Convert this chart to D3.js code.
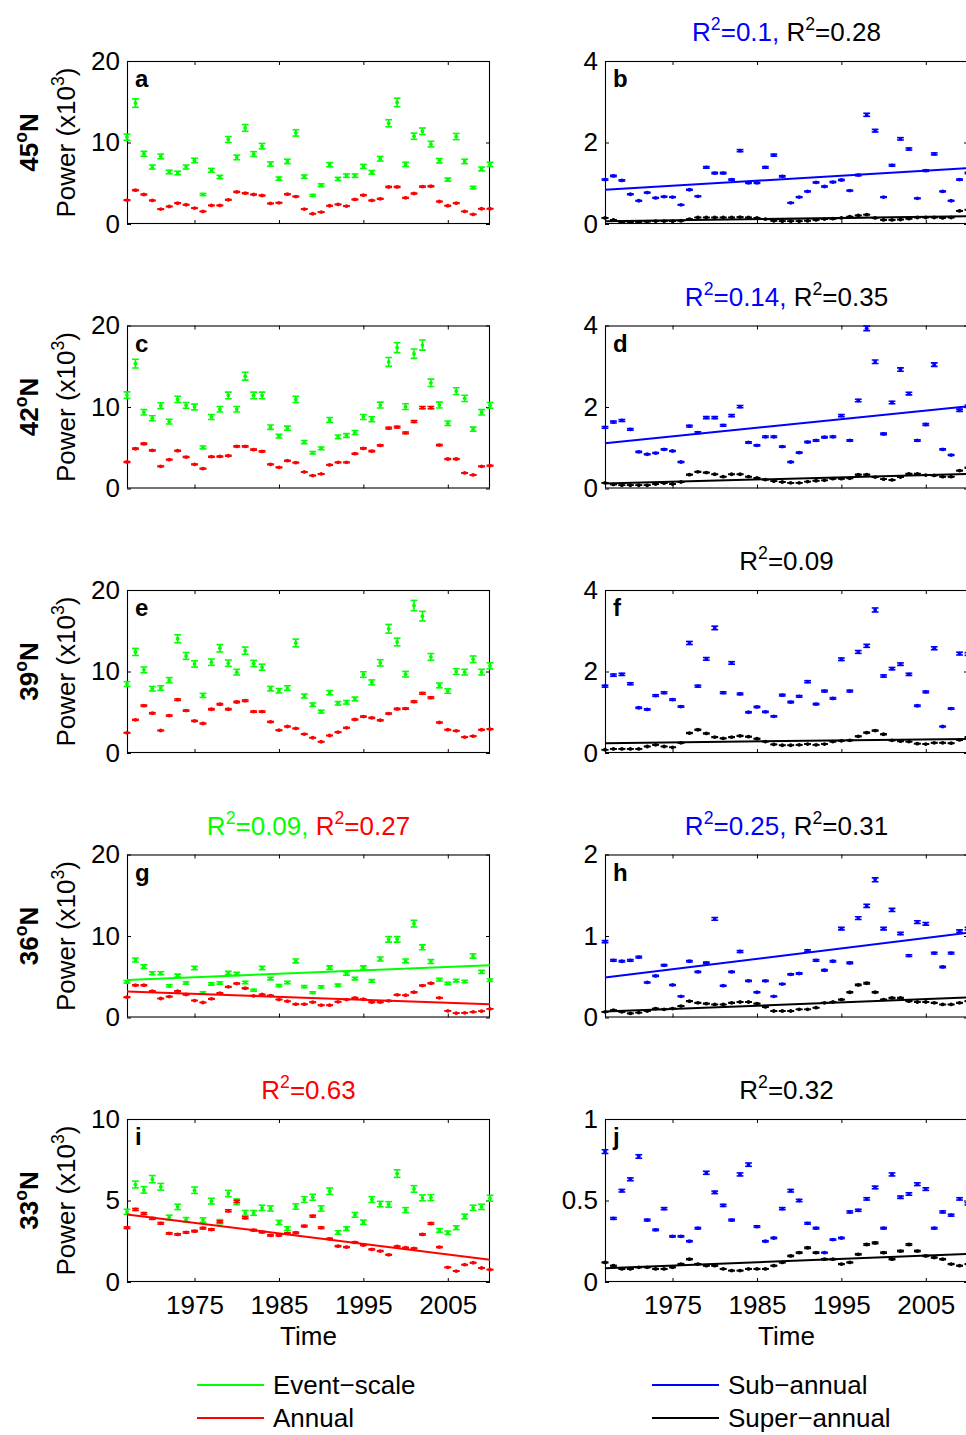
<!DOCTYPE html>
<html>
<head>
<meta charset="utf-8">
<script src="https://cdn.jsdelivr.net/npm/d3@7"></script>
<style>
  html, body { margin: 0; padding: 0; background: #fff; }
  svg { display: block; font-family: "Liberation Sans", Arial, Helvetica, sans-serif; }
  text { white-space: pre; }
</style>
</head>
<body>
<svg id="chart" width="966" height="1435"></svg>
<script>
// ---------------- DATA ----------------
const years = [1967,1968,1969,1970,1971,1972,1973,1974,1975,1976,1977,1978,1979,1980,1981,1982,1983,1984,1985,1986,1987,1988,
               1989,1990,1991,1992,1993,1994,1995,1996,1997,1998,1999,2000,2001,2002,2003,2004,2005,2006,2007,2008,2009,2010];
const xTicks = [1975, 1985, 1995, 2005];
const latitudes = ["45", "42", "39", "36", "33"];
const leftTicks  = [[0,10,20],[0,10,20],[0,10,20],[0,10,20],[0,5,10]];
const rightTicks = [[0,2,4],[0,2,4],[0,2,4],[0,1,2],[0,0.5,1]];
const panelLetters = [["a","b"],["c","d"],["e","f"],["g","h"],["i","j"]];

// 45N
const eventA  = [10.65,14.84,8.62,6.99,8.29,6.38,6.26,6.99,7.80,3.62,6.59,5.77,10.37,8.17,11.79,8.58,9.55,7.36,5.57,7.68,11.18,5.81,
                 3.50,4.76,7.28,5.53,5.93,5.93,7.07,6.34,8.01,12.36,14.92,7.32,10.77,11.38,9.80,7.76,5.45,10.73,7.68,4.47,6.75,7.32];
const annualA = [2.93,4.15,3.62,2.89,1.83,2.15,2.56,2.36,1.95,1.54,2.28,2.28,2.97,3.94,3.78,3.62,3.50,2.52,2.60,3.66,3.37,1.83,
                 1.26,1.46,2.24,2.40,2.20,3.01,3.54,2.89,3.09,4.55,4.55,3.21,3.74,4.59,4.63,2.76,2.24,2.56,1.54,1.18,1.87,1.87];
const subB    = [1.09,1.18,1.07,0.73,0.57,0.77,0.64,0.67,0.66,0.47,0.84,0.68,1.39,1.25,1.25,1.09,1.80,1.01,1.01,1.39,1.69,1.17,
                 0.52,0.66,0.80,1.02,0.92,1.03,1.08,0.82,1.20,2.68,2.29,0.66,1.44,2.09,1.84,0.63,1.31,1.72,0.80,0.57,1.09,1.25];
const superB  = [0.15,0.10,0.05,0.05,0.05,0.06,0.07,0.07,0.07,0.08,0.12,0.16,0.16,0.16,0.16,0.16,0.17,0.16,0.15,0.12,0.08,0.07,
                 0.07,0.07,0.08,0.10,0.12,0.13,0.15,0.18,0.21,0.23,0.15,0.10,0.10,0.11,0.13,0.16,0.16,0.16,0.15,0.16,0.32,0.35];
// 42N
const eventC  = [11.46,15.33,9.35,8.62,10.16,8.21,10.93,10.20,10.00,5.04,8.78,9.72,11.42,9.72,13.78,11.42,11.42,7.52,6.42,7.40,10.93,5.69,
                 4.39,4.92,8.41,6.34,6.50,6.87,8.78,8.50,10.24,15.53,17.28,10.04,16.54,17.60,12.97,10.24,8.01,11.95,11.06,7.28,9.35,10.20];
const annualC = [3.25,4.88,5.49,4.67,2.72,3.54,4.63,3.86,2.97,2.44,3.90,3.94,4.02,5.16,5.16,4.76,4.55,2.97,2.60,3.41,3.17,2.03,
                 1.59,1.79,2.89,3.21,3.21,4.27,4.92,4.59,5.28,7.40,7.52,6.83,8.21,9.92,9.92,5.33,3.62,3.62,1.91,1.67,2.72,2.80];
const subD    = [1.50,1.63,1.67,1.45,0.90,0.84,0.87,0.96,0.92,0.65,1.53,1.37,1.74,1.74,1.55,1.79,2.01,1.13,1.06,1.27,1.27,1.03,
                 0.65,0.88,1.14,1.18,1.26,1.27,1.79,1.18,2.16,3.93,3.11,1.34,2.11,2.92,2.33,1.18,1.57,3.04,0.96,0.82,1.92,2.02];
const superD  = [0.14,0.10,0.08,0.08,0.08,0.08,0.11,0.13,0.11,0.16,0.34,0.41,0.39,0.35,0.29,0.35,0.35,0.29,0.26,0.22,0.18,0.16,
                 0.14,0.14,0.17,0.19,0.20,0.24,0.24,0.25,0.34,0.34,0.28,0.23,0.21,0.28,0.36,0.36,0.33,0.32,0.29,0.29,0.44,0.51];
// 39N
const eventE  = [8.46,12.40,10.20,7.89,7.97,8.94,14.02,11.91,10.93,7.07,11.14,12.85,11.02,9.92,12.56,10.98,10.53,7.89,7.64,7.97,13.50,6.99,
                 5.93,5.08,7.40,6.10,6.22,6.63,9.63,8.66,11.06,15.24,13.62,9.67,18.09,16.79,11.79,8.29,7.60,10.00,9.92,11.50,9.92,10.69];
const annualE = [2.48,4.07,5.81,4.88,2.76,4.59,6.54,5.20,3.94,3.62,5.37,5.98,5.37,6.26,6.42,5.08,5.08,3.82,2.80,3.25,3.01,2.32,
                 1.87,1.38,2.15,2.56,3.09,4.11,4.47,4.31,4.02,4.84,5.41,5.45,6.30,7.32,6.79,3.74,2.85,2.72,1.95,2.07,2.85,2.93];
const subF    = [1.64,1.91,1.93,1.70,1.11,1.07,1.41,1.48,1.31,1.14,2.70,1.64,2.31,3.07,1.48,2.21,1.45,1.00,1.13,1.01,0.90,1.42,
                 1.25,1.39,1.75,1.20,1.52,1.34,2.30,1.52,2.48,2.63,3.51,1.89,2.07,2.18,1.93,1.16,1.50,2.57,0.65,1.09,2.44,2.43];
const superF  = [0.08,0.10,0.10,0.10,0.10,0.16,0.20,0.16,0.14,0.25,0.49,0.57,0.48,0.39,0.36,0.39,0.42,0.40,0.35,0.28,0.21,0.19,
                 0.19,0.20,0.22,0.20,0.22,0.28,0.30,0.31,0.41,0.50,0.55,0.46,0.31,0.29,0.28,0.23,0.22,0.25,0.25,0.24,0.32,0.39];
// 36N
const eventG  = [4.37,7.06,6.24,5.43,5.43,3.88,5.14,4.24,6.08,3.06,4.12,4.24,5.47,5.35,4.29,3.35,6.08,4.78,3.92,4.29,6.94,3.80,
                 3.06,3.76,6.12,3.96,5.39,4.78,6.12,4.49,7.18,9.59,9.59,6.94,11.51,8.61,6.86,4.65,4.16,4.53,4.41,7.55,5.59,4.57];
const annualG = [2.49,3.96,3.96,3.22,2.33,2.57,3.22,2.82,2.08,1.84,2.29,2.98,3.76,4.16,3.59,2.65,2.82,2.69,2.20,2.00,1.63,1.63,
                 1.88,1.51,1.51,1.92,2.20,2.41,2.24,1.88,1.88,2.04,2.78,2.73,3.10,3.92,4.20,2.41,0.82,0.53,0.57,0.69,0.78,1.06];
const subH    = [0.93,0.70,0.69,0.70,0.74,0.43,0.51,0.64,0.40,0.26,0.69,0.56,0.67,1.21,0.39,0.56,0.81,0.45,0.31,0.45,0.26,0.41,
                 0.53,0.54,0.82,0.70,0.58,0.69,1.09,0.67,1.22,1.37,1.69,1.09,1.32,1.03,0.76,1.17,1.15,0.79,0.62,0.79,1.06,1.09];
const superH  = [0.07,0.09,0.07,0.05,0.06,0.08,0.11,0.10,0.11,0.14,0.20,0.18,0.17,0.16,0.16,0.18,0.19,0.19,0.17,0.13,0.08,0.08,
                 0.08,0.10,0.10,0.12,0.18,0.19,0.22,0.31,0.40,0.42,0.31,0.22,0.24,0.24,0.20,0.19,0.19,0.18,0.16,0.16,0.18,0.20];
// 33N
const eventI  = [4.31,5.98,5.65,6.31,5.84,3.96,4.61,3.82,5.63,3.80,4.96,3.70,5.43,4.92,4.24,4.24,4.55,4.51,3.65,3.27,4.63,5.06,
                 5.20,4.51,5.57,3.04,3.27,4.12,3.67,5.06,4.78,4.76,6.65,4.41,5.71,5.16,5.18,3.16,3.02,3.33,4.02,4.55,4.61,5.14];
const annualI = [3.33,4.45,4.20,3.90,3.60,2.98,2.92,3.04,3.12,3.30,3.22,3.70,4.37,4.94,3.94,3.18,3.06,2.86,2.86,2.98,3.02,3.43,
                 4.04,3.33,2.65,2.20,2.14,2.43,2.27,2.00,1.90,1.67,2.18,2.10,2.06,2.92,3.59,2.14,0.90,0.67,1.06,1.18,0.86,0.76];
const subJ    = [0.80,0.39,0.56,0.63,0.77,0.38,0.32,0.45,0.28,0.28,0.25,0.33,0.67,0.55,0.47,0.38,0.66,0.72,0.34,0.25,0.27,0.45,
                 0.56,0.50,0.36,0.33,0.18,0.26,0.27,0.43,0.44,0.51,0.58,0.33,0.66,0.52,0.54,0.60,0.57,0.33,0.43,0.41,0.51,0.48];
const superJ  = [0.12,0.10,0.08,0.08,0.09,0.09,0.08,0.08,0.09,0.11,0.14,0.11,0.10,0.10,0.08,0.07,0.07,0.08,0.08,0.08,0.10,0.12,
                 0.16,0.18,0.21,0.18,0.14,0.14,0.11,0.12,0.17,0.23,0.24,0.18,0.14,0.19,0.23,0.19,0.16,0.15,0.14,0.11,0.10,0.11];

// linear trend lines: [value at 1967, value at 2010]
const trendSubB = [0.84, 1.37],  trendSuperB = [0.066, 0.19];
const trendSubD = [1.11, 2.02],  trendSuperD = [0.12, 0.36];
const trendSuperF = [0.24, 0.345];
const trendEventG = [4.61, 6.41], trendAnnualG = [3.18, 1.63];
const trendSubH = [0.49, 1.04],  trendSuperH = [0.073, 0.245];
const trendAnnualI = [4.14, 1.37];
const trendSuperJ = [0.084, 0.173];

// R^2 labels shown above panels
const r2b = [["0.1","sub"],["0.28","super"]];
const r2d = [["0.14","sub"],["0.35","super"]];
const r2f = [["0.09","super"]];
const r2g = [["0.09","event"],["0.27","annual"]];
const r2h = [["0.25","sub"],["0.31","super"]];
const r2i = [["0.63","annual"]];
const r2j = [["0.32","super"]];

const seriesNames = ["Event\u2212scale","Annual","Sub\u2212annual","Super\u2212annual"];

// ---------------- STYLE / LAYOUT ----------------
const COL = { event: "#00ff00", annual: "#ff0000", sub: "#0000ff", super: "#000000" };
const REL_ERR = { event: 0.035, annual: 0.014, sub: 0.014, super: 0.02 };
const FONT = 26;
const colX = [127, 605];
const PW = 363, PH = 163;
const rowTop = r => 61 + r * 264.5;

const panels = [
  { r:0, c:0, vals:[["event",eventA],["annual",annualA]], trends:[], r2:null },
  { r:0, c:1, vals:[["sub",subB],["super",superB]], trends:[["sub",trendSubB],["super",trendSuperB]], r2:r2b },
  { r:1, c:0, vals:[["event",eventC],["annual",annualC]], trends:[], r2:null },
  { r:1, c:1, vals:[["sub",subD],["super",superD]], trends:[["sub",trendSubD],["super",trendSuperD]], r2:r2d },
  { r:2, c:0, vals:[["event",eventE],["annual",annualE]], trends:[], r2:null },
  { r:2, c:1, vals:[["sub",subF],["super",superF]], trends:[["super",trendSuperF]], r2:r2f },
  { r:3, c:0, vals:[["event",eventG],["annual",annualG]], trends:[["event",trendEventG],["annual",trendAnnualG]], r2:r2g },
  { r:3, c:1, vals:[["sub",subH],["super",superH]], trends:[["sub",trendSubH],["super",trendSuperH]], r2:r2h },
  { r:4, c:0, vals:[["event",eventI],["annual",annualI]], trends:[["annual",trendAnnualI]], r2:r2i },
  { r:4, c:1, vals:[["sub",subJ],["super",superJ]], trends:[["super",trendSuperJ]], r2:r2j },
];

const svg = d3.select("#chart");

// rich text: superscript parts are raised; the following part is lowered back
function rich(textSel, parts, baseSize) {
  const shift = 0.42 * baseSize;
  let raised = false;
  parts.forEach(p => {
    const ts = textSel.append("tspan").attr("fill", p.color || null).text(p.t);
    if (p.sup) {
      ts.attr("dy", raised ? 0 : -shift).attr("font-size", baseSize * 0.68);
      raised = true;
    } else {
      if (raised) ts.attr("dy", shift);
      raised = false;
    }
  });
}

panels.forEach(p => {
  const x0 = colX[p.c], top = rowTop(p.r);
  const ticks = p.c === 0 ? leftTicks[p.r] : rightTicks[p.r];
  const ymax = ticks[ticks.length - 1];
  const x = d3.scaleLinear().domain([years[0], years[years.length - 1]]).range([x0, x0 + PW]);
  const y = d3.scaleLinear().domain([0, ymax]).range([top + PH, top]);
  const g = svg.append("g");

  // axes (inward ticks)
  const tk = 4;
  const ax = (gen, tx, ty) => {
    const a = g.append("g").attr("transform", `translate(${tx},${ty})`).call(gen);
    a.select(".domain").remove();
    a.selectAll("line").attr("stroke", "#000").attr("stroke-width", 1);
    a.selectAll("text").filter(function () { return this.textContent === ""; }).remove();
    a.selectAll("text").attr("font-size", FONT).attr("font-family", "Liberation Sans, Arial, sans-serif").attr("fill", "#000");
    return a;
  };
  ax(d3.axisLeft(y).tickValues(ticks).tickSizeInner(-tk).tickSizeOuter(0).tickPadding(7).tickFormat(d3.format("~g")), x0, 0);
  ax(d3.axisRight(y).tickValues(ticks).tickSizeInner(-tk).tickSizeOuter(0).tickFormat(""), x0 + PW, 0);
  ax(d3.axisTop(x).tickValues(xTicks).tickSizeInner(-tk).tickSizeOuter(0).tickFormat(""), 0, top);
  ax(d3.axisBottom(x).tickValues(xTicks).tickSizeInner(-tk).tickSizeOuter(0).tickPadding(14)
      .tickFormat(p.r === 4 ? d3.format("d") : ""), 0, top + PH);

  // frame
  g.append("rect").attr("x", x0 + 0.5).attr("y", top + 0.5).attr("width", PW - 1).attr("height", PH - 1)
    .attr("fill", "none").attr("stroke", "#000").attr("stroke-width", 1.1);

  const clip = "clip-" + p.r + "-" + p.c;
  g.append("clipPath").attr("id", clip).append("rect")
    .attr("x", x0 - 5).attr("y", top - 5).attr("width", PW + 10).attr("height", PH + 10);
  const plot = g.append("g").attr("clip-path", `url(#${clip})`);

  // errorbar points
  p.vals.forEach(([key, arr]) => {
    const col = COL[key];
    const pts = plot.append("g").selectAll("g").data(arr.map((v, i) => ({ yr: years[i], v }))).join("g");
    const e = d => d.v * REL_ERR[key];
    const cw = 3.4, sw = 1.6;
    pts.append("line").attr("x1", d => x(d.yr)).attr("x2", d => x(d.yr))
      .attr("y1", d => y(d.v - e(d))).attr("y2", d => y(d.v + e(d))).attr("stroke", col).attr("stroke-width", sw);
    pts.append("line").attr("x1", d => x(d.yr) - cw).attr("x2", d => x(d.yr) + cw)
      .attr("y1", d => y(d.v - e(d))).attr("y2", d => y(d.v - e(d))).attr("stroke", col).attr("stroke-width", sw);
    pts.append("line").attr("x1", d => x(d.yr) - cw).attr("x2", d => x(d.yr) + cw)
      .attr("y1", d => y(d.v + e(d))).attr("y2", d => y(d.v + e(d))).attr("stroke", col).attr("stroke-width", sw);
    pts.append("circle").attr("cx", d => x(d.yr)).attr("cy", d => y(d.v)).attr("r", 1.9).attr("fill", col);
  });

  // trend lines
  p.trends.forEach(([key, tr]) => {
    plot.append("line")
      .attr("x1", x(years[0])).attr("y1", y(tr[0]))
      .attr("x2", x(years[years.length - 1])).attr("y2", y(tr[1]))
      .attr("stroke", COL[key]).attr("stroke-width", 2);
  });

  // panel letter
  g.append("text").attr("x", x0 + 8).attr("y", top + 26).attr("font-size", 24).attr("font-weight", "bold")
    .text(panelLetters[p.r][p.c]);

  // R^2 title
  if (p.r2) {
    const t = g.append("text").attr("x", x0 + PW / 2).attr("y", top - 20).attr("text-anchor", "middle").attr("font-size", FONT);
    const parts = [];
    p.r2.forEach(([val, key], i) => {
      const c = COL[key];
      parts.push({ t: (i > 0 ? " " : "") + "R", color: c });
      parts.push({ t: "2", sup: true, color: c });
      parts.push({ t: "=" + val + (i < p.r2.length - 1 ? "," : ""), color: c });
    });
    rich(t, parts, FONT);
  }

  // left labels
  if (p.c === 0) {
    const cy = top + PH / 2;
    const lab = g.append("text").attr("transform", `translate(66,${cy}) rotate(-90)`).attr("text-anchor", "middle")
      .attr("dy", "0.36em").attr("font-size", FONT);
    rich(lab, [{ t: "Power (x10" }, { t: "3", sup: true }, { t: ")" }], FONT);
    const lat = g.append("text").attr("transform", `translate(29,${cy}) rotate(-90)`).attr("text-anchor", "middle")
      .attr("dy", "0.36em").attr("font-size", FONT).attr("font-weight", "bold");
    rich(lat, [{ t: latitudes[p.r] }, { t: "o", sup: true }, { t: "N" }], FONT);
  }
  if (p.r === 4) {
    g.append("text").attr("x", x0 + PW / 2).attr("y", top + PH + 63).attr("text-anchor", "middle")
      .attr("font-size", FONT).text("Time");
  }
});

// legend
const legendItems = [
  { name: seriesNames[0], key: "event", lx: 197, ly: 1385 },
  { name: seriesNames[1], key: "annual", lx: 197, ly: 1418 },
  { name: seriesNames[2], key: "sub", lx: 652, ly: 1385 },
  { name: seriesNames[3], key: "super", lx: 652, ly: 1418 },
];
const lg = svg.append("g");
legendItems.forEach(it => {
  lg.append("line").attr("x1", it.lx).attr("x2", it.lx + 67).attr("y1", it.ly).attr("y2", it.ly)
    .attr("stroke", COL[it.key]).attr("stroke-width", 2);
  lg.append("text").attr("x", it.lx + 76).attr("y", it.ly).attr("dy", "0.35em").attr("font-size", FONT).text(it.name);
});
</script>
</body>
</html>
